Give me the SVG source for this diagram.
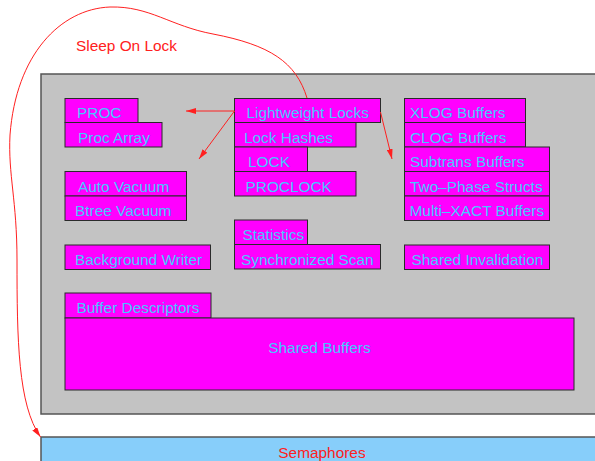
<svg xmlns="http://www.w3.org/2000/svg" width="595" height="461" viewBox="0 0 595 461">
<defs>
<style>
.bx{fill:#ff00ff;stroke:#2a2a2a;stroke-width:1}
.t{font-family:"Liberation Sans",Arial,sans-serif;font-size:15.4px;fill:#44c8ff}
.r{font-family:"Liberation Sans",Arial,sans-serif;font-size:15.4px;fill:#ff2020}
.c{fill:none;stroke:#ff2020;stroke-width:1}
</style>
<marker id="ah" viewBox="0 0 10 6" refX="10" refY="3" markerWidth="10" markerHeight="6" markerUnits="userSpaceOnUse" orient="auto">
<path d="M0,0 L10,3 L0,6 z" fill="#ff2020"/>
</marker>
</defs>
<rect width="595" height="461" fill="#ffffff"/>
<g id="panel"><rect x="41" y="74" width="560" height="340" fill="#c3c3c3" stroke="#555" stroke-width="1.5"/></g>
<g id="semaphores"><rect x="41" y="437" width="560" height="30" fill="#87cefa" stroke="#555" stroke-width="1.5"/><text class="r" x="322" y="458" text-anchor="middle">Semaphores</text></g>
<g id="proc"><rect class="bx" x="65" y="98.5" width="73" height="24"/><text class="t" x="77" y="118">PROC</text></g>
<g id="procarray"><rect class="bx" x="65" y="122.5" width="97" height="24.5"/><text class="t" x="78" y="142.5">Proc Array</text></g>
<g id="autovacuum"><rect class="bx" x="65" y="171.5" width="121.5" height="24.5"/><text class="t" x="78" y="191.5">Auto Vacuum</text></g>
<g id="btreevacuum"><rect class="bx" x="65" y="196" width="121.5" height="24.5"/><text class="t" x="75" y="215.5">Btree Vacuum</text></g>
<g id="bgwriter"><rect class="bx" x="65" y="245" width="145.5" height="24.5"/><text class="t" x="75" y="264.5">Background Writer</text></g>
<g id="lwlocks"><rect class="bx" x="234.5" y="98.5" width="146" height="24"/><text class="t" x="246.5" y="118">Lightweight Locks</text></g>
<g id="lockhashes"><rect class="bx" x="234.5" y="122.5" width="121.5" height="24.5"/><text class="t" x="244" y="142.5">Lock Hashes</text></g>
<g id="lock"><rect class="bx" x="234.5" y="147" width="73" height="24.5"/><text class="t" x="248" y="166.5">LOCK</text></g>
<g id="proclock"><rect class="bx" x="234.5" y="171.5" width="121.5" height="24.5"/><text class="t" x="245.5" y="191.5">PROCLOCK</text></g>
<g id="statistics"><rect class="bx" x="234.5" y="220" width="73" height="24.5"/><text class="t" x="242.5" y="240">Statistics</text></g>
<g id="syncscan"><rect class="bx" x="234.5" y="244.5" width="146" height="24.5"/><text class="t" x="241" y="264.5">Synchronized Scan</text></g>
<g id="xlog"><rect class="bx" x="404.5" y="98.5" width="121" height="24"/><text class="t" x="410" y="118">XLOG Buffers</text></g>
<g id="clog"><rect class="bx" x="404.5" y="122.5" width="121" height="24.5"/><text class="t" x="410" y="142.5">CLOG Buffers</text></g>
<g id="subtrans"><rect class="bx" x="404.5" y="147" width="145" height="24.5"/><text class="t" x="410" y="166.5">Subtrans Buffers</text></g>
<g id="twophase"><rect class="bx" x="404.5" y="171.5" width="145" height="24.5"/><text class="t" x="410" y="191.5">Two–Phase Structs</text></g>
<g id="multixact"><rect class="bx" x="404.5" y="196" width="145" height="24.5"/><text class="t" x="409.5" y="215.5">Multi–XACT Buffers</text></g>
<g id="sinval"><rect class="bx" x="404.5" y="245" width="145" height="24.5"/><text class="t" x="411.5" y="264.5">Shared Invalidation</text></g>
<g id="bufdesc"><rect class="bx" x="65" y="293" width="146" height="25"/><text class="t" x="76.5" y="313">Buffer Descriptors</text></g>
<g id="sharedbuffers"><rect class="bx" x="65" y="318" width="509" height="72"/><text class="t" x="319.5" y="353" text-anchor="middle">Shared Buffers</text></g>
<g id="connectors">
<line class="c" x1="234.5" y1="111" x2="186" y2="111" marker-end="url(#ah)"/>
<line class="c" x1="234.5" y1="111" x2="199" y2="159" marker-end="url(#ah)"/>
<line class="c" x1="380.5" y1="112" x2="392" y2="159" marker-end="url(#ah)"/>
<path class="c" d="M307 98 C296 62, 270 45, 213 34 C170 26, 150 6, 110 7 C60 9, 16 55, 10 135 C8 175, 17 200, 17 260 C17 340, 18 405, 40.5 437" marker-end="url(#ah)"/>
<text class="r" x="76" y="50.5">Sleep On Lock</text>
</g>
</svg>
